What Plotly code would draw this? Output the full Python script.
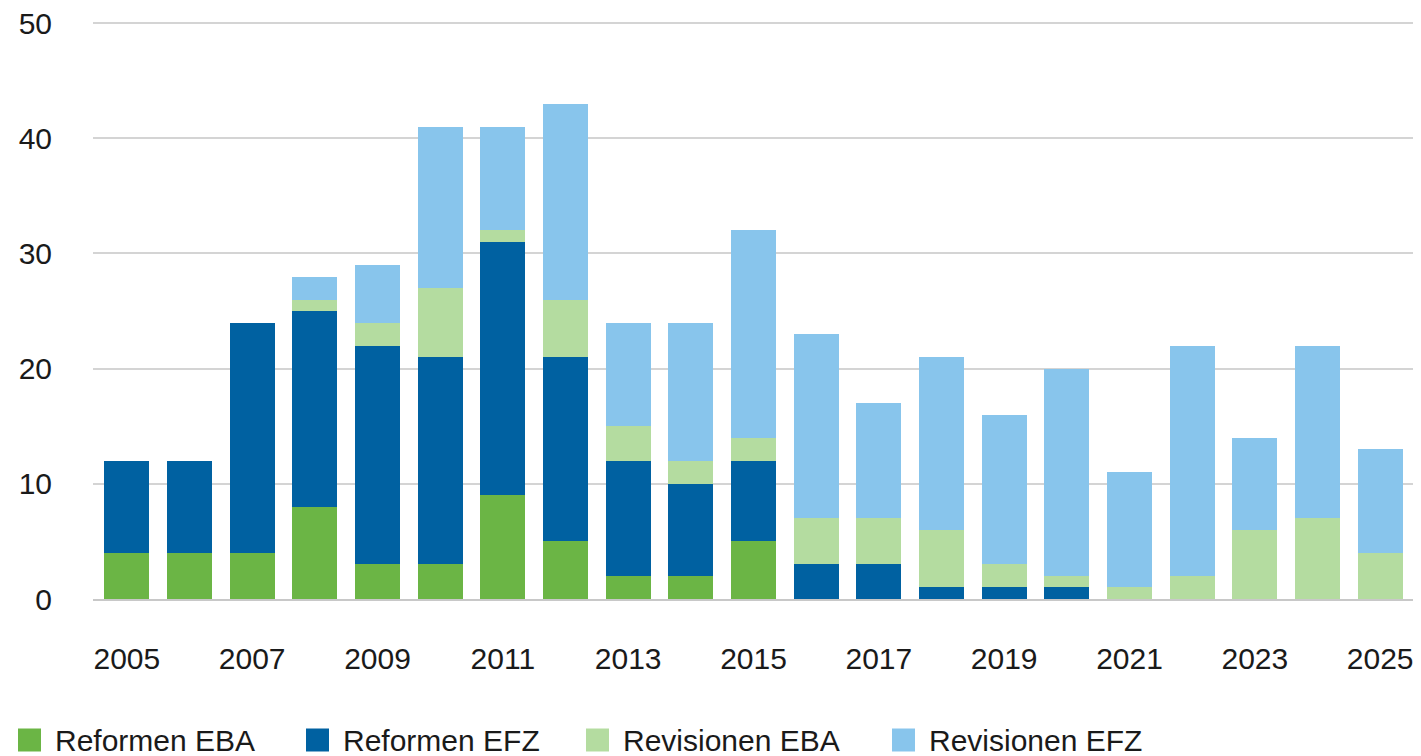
import plotly.graph_objects as go

years = list(range(2005, 2026))
reformen_eba = [4, 4, 4, 8, 3, 3, 9, 5, 2, 2, 5, 0, 0, 0, 0, 0, 0, 0, 0, 0, 0]
reformen_efz = [8, 8, 20, 17, 19, 18, 22, 16, 10, 8, 7, 3, 3, 1, 1, 1, 0, 0, 0, 0, 0]
revisionen_eba = [0, 0, 0, 1, 2, 6, 1, 5, 3, 2, 2, 4, 4, 5, 2, 1, 1, 2, 6, 7, 4]
revisionen_efz = [0, 0, 0, 2, 5, 14, 9, 17, 9, 12, 18, 16, 10, 15, 13, 18, 10, 20, 8, 15, 9]

series_names = ["Reformen EBA", "Reformen EFZ", "Revisionen EBA", "Revisionen EFZ"]
series_values = [reformen_eba, reformen_efz, revisionen_eba, revisionen_efz]
colors = ["#6bb545", "#0061a1", "#b4dca0", "#88c5ec"]

# the page places the figure 8px from the top-left corner; compensate
OFF = 8
W, H = 1421 - OFF, 756 - OFF
ML, MR, MT, MB = 93 - OFF, 7, 22 - OFF, 157
font_family = "Liberation Sans, Arial, sans-serif"
text_color = "#1a1a1a"
FS = 30

fig = go.Figure()
for name, vals, col in zip(series_names, series_values, colors):
    fig.add_trace(go.Bar(x=years, y=vals, name=name, marker_color=col,
                         marker_line_width=0, showlegend=False))

# manual legend (large square swatches like the reference)
pw = W - ML - MR
ph = H - MT - MB
legend_x = [18 - OFF, 306 - OFF, 586 - OFF, 892 - OFF]
legend_y = 740 - OFF
sq = 23
for name, col, lx in zip(series_names, colors, legend_x):
    x0 = (lx - ML) / pw
    x1 = (lx + sq - ML) / pw
    y0 = (H - MB - (legend_y + sq / 2)) / ph
    y1 = (H - MB - (legend_y - sq / 2)) / ph
    fig.add_shape(type="rect", xref="paper", yref="paper", x0=x0, x1=x1, y0=y0, y1=y1,
                  fillcolor=col, line_width=0)
    fig.add_annotation(xref="paper", yref="paper", x=(lx + sq + 12 - ML) / pw,
                       y=(H - MB - legend_y) / ph, text=name, showarrow=False,
                       xanchor="left", yanchor="middle",
                       font=dict(size=FS, color=text_color, family=font_family))

fig.update_layout(
    width=W, height=H,
    barmode="stack", bargap=0.28,
    plot_bgcolor="white", paper_bgcolor="white",
    margin=dict(l=ML, r=MR, t=MT, b=MB, autoexpand=False),
    font=dict(family=font_family, size=FS, color=text_color),
)
fig.update_xaxes(range=[2004.46, 2025.54], tickmode="linear", tick0=2005, dtick=2,
                 showgrid=False, showline=True, linecolor="#c8c8c8", linewidth=2,
                 ticks="", ticklabelstandoff=32, automargin=False)
fig.update_yaxes(range=[0, 50.1], tickmode="linear", tick0=0, dtick=10,
                 showgrid=True, gridcolor="#d4d4d4", gridwidth=1.5,
                 zeroline=False, ticks="", ticklabelstandoff=40,
                 ticklabeloverflow="allow", automargin=False)

fig.write_html("out.html")
